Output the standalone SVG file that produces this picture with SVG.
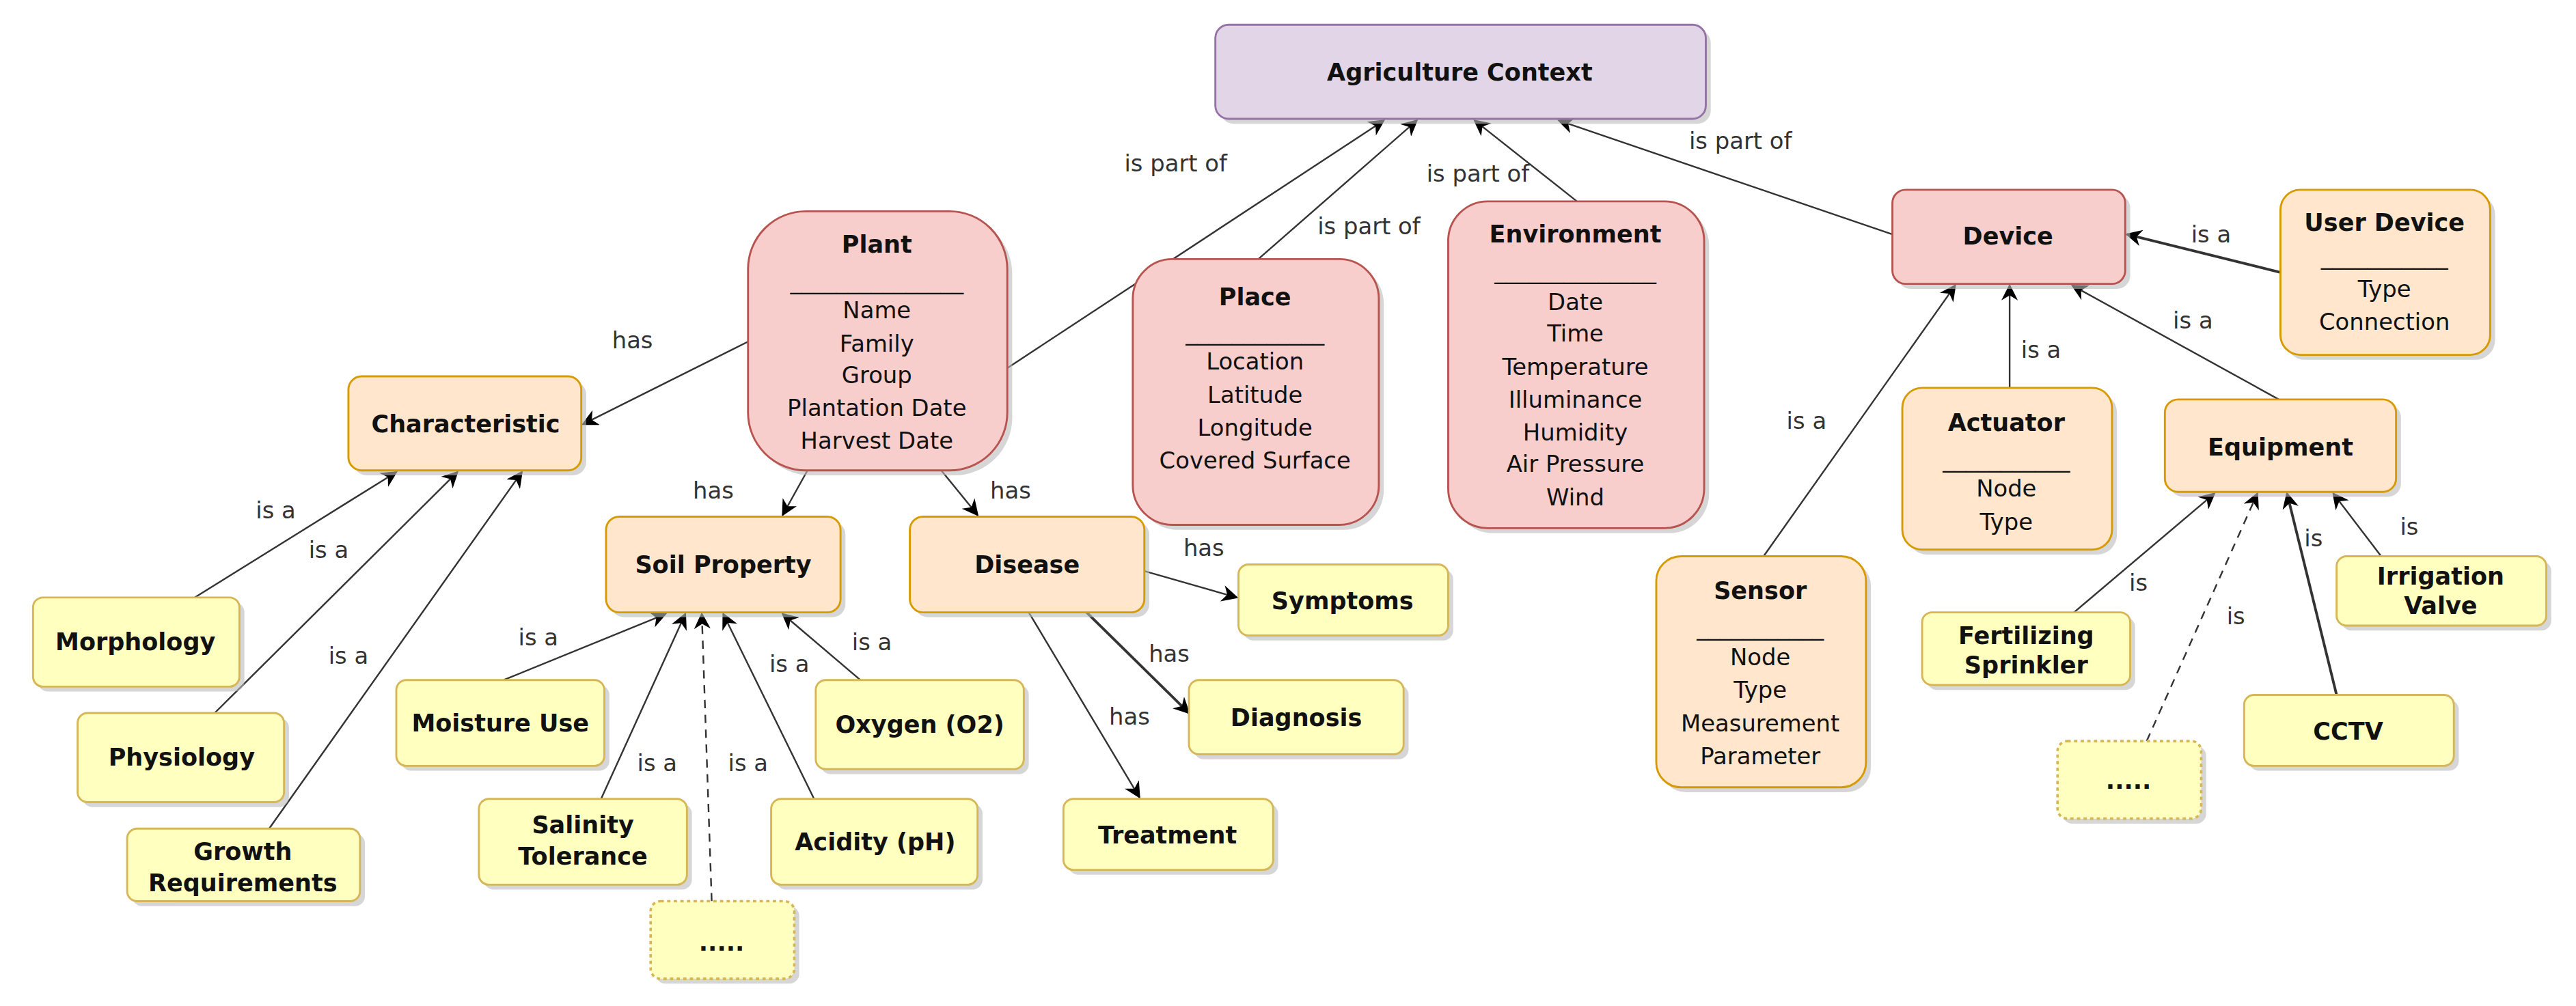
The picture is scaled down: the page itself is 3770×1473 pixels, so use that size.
<svg xmlns="http://www.w3.org/2000/svg" width="3770" height="1473" viewBox="0 0 3770 1473">
<defs>
<marker id="ar" markerWidth="10" markerHeight="10" refX="9" refY="5" orient="auto" markerUnits="userSpaceOnUse"><path d="M0,0 L10,5 L0,10 L3,5 Z" fill="#000"/></marker>
<style>
text{font-family:"DejaVu Sans","Liberation Sans",sans-serif;text-anchor:middle;fill:#111}
.t{font-size:14.5px;font-weight:bold}
.a{font-size:14px}
.l{font-size:14px;fill:#333}
.sh{fill:#bbb;opacity:0.6}
.pu{fill:#e1d5e7;stroke:#9673a6;stroke-width:1.2}
.pk{fill:#f8cecc;stroke:#b85450;stroke-width:1.2}
.or{fill:#ffe6cc;stroke:#d79b00;stroke-width:1.2}
.ye{fill:#ffffc0;stroke:#d6b656;stroke-width:1.2}
.dt{fill:#ffffc0;stroke:#d6b656;stroke-width:1.5;stroke-dasharray:2 2}
.e{stroke:#333;stroke-width:1;fill:none;marker-end:url(#ar)}
.d{stroke:#333;stroke-width:1;fill:none;stroke-dasharray:5 4;marker-end:url(#ar)}
</style>
</defs>
<rect width="3770" height="1473" fill="#fff"/>
<g transform="scale(2.4167)">
<g id="connectors">
<line class="e" x1="610" y1="223" x2="838" y2="73"/><text class="l" x="712" y="104">is part of</text>
<line class="e" x1="762" y1="157" x2="858" y2="73"/><text class="l" x="829" y="142">is part of</text>
<line class="e" x1="955" y1="122" x2="893" y2="73"/><text class="l" x="895" y="110">is part of</text>
<line class="e" x1="1146" y1="142" x2="944" y2="73"/><text class="l" x="1054" y="90">is part of</text>
<line class="e" x1="1381" y1="165" x2="1288" y2="142" style="stroke-width:1.6"/><text class="l" x="1339" y="147">is a</text>
<line class="e" x1="1217" y1="235" x2="1217" y2="173"/><text class="l" x="1236" y="217">is a</text>
<line class="e" x1="1380" y1="242" x2="1255" y2="173"/><text class="l" x="1328" y="199">is a</text>
<line class="e" x1="1068" y1="337" x2="1184" y2="173"/><text class="l" x="1094" y="260">is a</text>
<line class="e" x1="453" y1="207" x2="353" y2="257"/><text class="l" x="383" y="211">has</text>
<line class="e" x1="489" y1="285" x2="474" y2="312"/><text class="l" x="432" y="302">has</text>
<line class="e" x1="570" y1="285" x2="592" y2="312"/><text class="l" x="612" y="302">has</text>
<line class="e" x1="118" y1="362" x2="240" y2="286"/><text class="l" x="167" y="314">is a</text>
<line class="e" x1="130" y1="432" x2="277" y2="286"/><text class="l" x="199" y="338">is a</text>
<line class="e" x1="163" y1="502" x2="316" y2="286"/><text class="l" x="211" y="402">is a</text>
<line class="e" x1="305" y1="412" x2="403" y2="372"/><text class="l" x="326" y="391">is a</text>
<line class="e" x1="364" y1="484" x2="415" y2="372"/><text class="l" x="398" y="467">is a</text>
<line class="d" x1="431" y1="546" x2="425" y2="372"/><text class="l" x="453" y="467">is a</text>
<line class="e" x1="493" y1="484" x2="438" y2="372"/><text class="l" x="478" y="407">is a</text>
<line class="e" x1="521" y1="412" x2="474" y2="372"/><text class="l" x="528" y="394">is a</text>
<line class="e" x1="693" y1="346" x2="749" y2="362"/><text class="l" x="729" y="337">has</text>
<line class="e" x1="658" y1="371" x2="720" y2="432" style="stroke-width:1.6"/><text class="l" x="708" y="401">has</text>
<line class="e" x1="623" y1="371" x2="690" y2="483"/><text class="l" x="684" y="439">has</text>
<line class="e" x1="1256" y1="371" x2="1341" y2="299"/><text class="l" x="1295" y="358">is</text>
<line class="d" x1="1300" y1="449" x2="1367" y2="299"/><text class="l" x="1354" y="378">is</text>
<line class="e" x1="1415" y1="421" x2="1385" y2="299" style="stroke-width:1.6"/><text class="l" x="1401" y="331">is</text>
<line class="e" x1="1442" y1="337" x2="1413" y2="299"/><text class="l" x="1459" y="324">is</text>
</g>
<g id="agri"><rect class="sh" x="739" y="18" width="297" height="57" rx="8"/><rect class="pu" x="736" y="15" width="297" height="57" rx="8"/><text class="t" x="884" y="49">Agriculture Context</text></g>
<g id="plant"><rect class="sh" x="456" y="131" width="157" height="157" rx="35"/><rect class="pk" x="453" y="128" width="157" height="157" rx="35"/>
<text class="t" x="531" y="153">Plant</text><text class="a" x="531" y="175">_______________</text>
<text class="a" x="531" y="193">Name</text><text class="a" x="531" y="213">Family</text><text class="a" x="531" y="232">Group</text><text class="a" x="531" y="252">Plantation Date</text><text class="a" x="531" y="272">Harvest Date</text></g>
<g id="place"><rect class="sh" x="689" y="160" width="149" height="161" rx="24"/><rect class="pk" x="686" y="157" width="149" height="161" rx="24"/>
<text class="t" x="760" y="185">Place</text><text class="a" x="760" y="206">____________</text>
<text class="a" x="760" y="224">Location</text><text class="a" x="760" y="244">Latitude</text><text class="a" x="760" y="264">Longitude</text><text class="a" x="760" y="284">Covered Surface</text></g>
<g id="environment"><rect class="sh" x="880" y="125" width="155" height="198" rx="24"/><rect class="pk" x="877" y="122" width="155" height="198" rx="24"/>
<text class="t" x="954" y="147">Environment</text><text class="a" x="954" y="169">______________</text>
<text class="a" x="954" y="188">Date</text><text class="a" x="954" y="207">Time</text><text class="a" x="954" y="227">Temperature</text><text class="a" x="954" y="247">Illuminance</text><text class="a" x="954" y="267">Humidity</text><text class="a" x="954" y="286">Air Pressure</text><text class="a" x="954" y="306">Wind</text></g>
<g id="device"><rect class="sh" x="1149" y="118" width="141" height="57" rx="8"/><rect class="pk" x="1146" y="115" width="141" height="57" rx="8"/><text class="t" x="1216" y="148">Device</text></g>
<g id="userdevice"><rect class="sh" x="1384" y="118" width="127" height="100" rx="12"/><rect class="or" x="1381" y="115" width="127" height="100" rx="12"/>
<text class="t" x="1444" y="140">User Device</text><text class="a" x="1444" y="160">___________</text><text class="a" x="1444" y="180">Type</text><text class="a" x="1444" y="200">Connection</text></g>
<g id="characteristic"><rect class="sh" x="214" y="231" width="141" height="57" rx="8"/><rect class="or" x="211" y="228" width="141" height="57" rx="8"/><text class="t" x="282" y="262">Characteristic</text></g>
<g id="soil"><rect class="sh" x="370" y="316" width="142" height="58" rx="8"/><rect class="or" x="367" y="313" width="142" height="58" rx="8"/><text class="t" x="438" y="347">Soil Property</text></g>
<g id="disease"><rect class="sh" x="554" y="316" width="142" height="58" rx="8"/><rect class="or" x="551" y="313" width="142" height="58" rx="8"/><text class="t" x="622" y="347">Disease</text></g>
<g id="actuator"><rect class="sh" x="1155" y="238" width="127" height="98" rx="12"/><rect class="or" x="1152" y="235" width="127" height="98" rx="12"/>
<text class="t" x="1215" y="261">Actuator</text><text class="a" x="1215" y="283">___________</text><text class="a" x="1215" y="301">Node</text><text class="a" x="1215" y="321">Type</text></g>
<g id="equipment"><rect class="sh" x="1314" y="245" width="140" height="56" rx="8"/><rect class="or" x="1311" y="242" width="140" height="56" rx="8"/><text class="t" x="1381" y="276">Equipment</text></g>
<g id="sensor"><rect class="sh" x="1006" y="340" width="127" height="140" rx="15"/><rect class="or" x="1003" y="337" width="127" height="140" rx="15"/>
<text class="t" x="1066" y="363">Sensor</text><text class="a" x="1066" y="385">___________</text><text class="a" x="1066" y="403">Node</text><text class="a" x="1066" y="423">Type</text><text class="a" x="1066" y="443">Measurement</text><text class="a" x="1066" y="463">Parameter</text></g>
<g id="morphology"><rect class="sh" x="23" y="365" width="125" height="54" rx="6"/><rect class="ye" x="20" y="362" width="125" height="54" rx="6"/><text class="t" x="82" y="394">Morphology</text></g>
<g id="physiology"><rect class="sh" x="50" y="435" width="125" height="54" rx="6"/><rect class="ye" x="47" y="432" width="125" height="54" rx="6"/><text class="t" x="110" y="464">Physiology</text></g>
<g id="growth"><rect class="sh" x="80" y="505" width="141" height="44" rx="6"/><rect class="ye" x="77" y="502" width="141" height="44" rx="6"/><text class="t" x="147" y="521">Growth</text><text class="t" x="147" y="540">Requirements</text></g>
<g id="moisture"><rect class="sh" x="243" y="415" width="126" height="52" rx="6"/><rect class="ye" x="240" y="412" width="126" height="52" rx="6"/><text class="t" x="303" y="443">Moisture Use</text></g>
<g id="oxygen"><rect class="sh" x="497" y="415" width="126" height="54" rx="6"/><rect class="ye" x="494" y="412" width="126" height="54" rx="6"/><text class="t" x="557" y="444">Oxygen (O2)</text></g>
<g id="salinity"><rect class="sh" x="293" y="487" width="126" height="52" rx="6"/><rect class="ye" x="290" y="484" width="126" height="52" rx="6"/><text class="t" x="353" y="505">Salinity</text><text class="t" x="353" y="524">Tolerance</text></g>
<g id="acidity"><rect class="sh" x="470" y="487" width="125" height="52" rx="6"/><rect class="ye" x="467" y="484" width="125" height="52" rx="6"/><text class="t" x="530" y="515">Acidity (pH)</text></g>
<g id="soil-more"><rect class="sh" x="397" y="549" width="87" height="47" rx="6"/><rect class="dt" x="394" y="546" width="87" height="47" rx="6"/><text class="t" x="437" y="576">.....</text></g>
<g id="symptoms"><rect class="sh" x="753" y="345" width="127" height="43" rx="6"/><rect class="ye" x="750" y="342" width="127" height="43" rx="6"/><text class="t" x="813" y="369">Symptoms</text></g>
<g id="diagnosis"><rect class="sh" x="723" y="415" width="130" height="45" rx="6"/><rect class="ye" x="720" y="412" width="130" height="45" rx="6"/><text class="t" x="785" y="440">Diagnosis</text></g>
<g id="treatment"><rect class="sh" x="647" y="487" width="127" height="43" rx="6"/><rect class="ye" x="644" y="484" width="127" height="43" rx="6"/><text class="t" x="707" y="511">Treatment</text></g>
<g id="fertilizing"><rect class="sh" x="1167" y="374" width="126" height="44" rx="6"/><rect class="ye" x="1164" y="371" width="126" height="44" rx="6"/><text class="t" x="1227" y="390">Fertilizing</text><text class="t" x="1227" y="408">Sprinkler</text></g>
<g id="irrigation"><rect class="sh" x="1418" y="340" width="127" height="42" rx="6"/><rect class="ye" x="1415" y="337" width="127" height="42" rx="6"/><text class="t" x="1478" y="354">Irrigation</text><text class="t" x="1478" y="372">Valve</text></g>
<g id="cctv"><rect class="sh" x="1362" y="424" width="127" height="43" rx="6"/><rect class="ye" x="1359" y="421" width="127" height="43" rx="6"/><text class="t" x="1422" y="448">CCTV</text></g>
<g id="equip-more"><rect class="sh" x="1249" y="452" width="87" height="47" rx="6"/><rect class="dt" x="1246" y="449" width="87" height="47" rx="6"/><text class="t" x="1289" y="478">.....</text></g>
</g>
</svg>
